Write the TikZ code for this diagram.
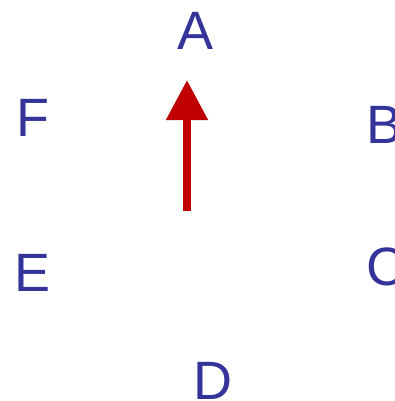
\documentclass[tikz,border=0pt]{standalone}
\usepackage{fontspec}
\setmainfont{Liberation Sans}
\usepackage{xcolor}
\usetikzlibrary{arrows.meta}
\definecolor{letter}{HTML}{333399}
\definecolor{needlered}{HTML}{C00000}

\tikzset{
  compass/.style={inner sep=0pt, text=letter, font=\fontsize{54}{60}\selectfont},
  needle/.style={draw=needlered, line width=8pt, -{Triangle[width=40pt,length=40pt]}}
}

\begin{document}
\begin{tikzpicture}[x=1pt, y=-1pt]
  \useasboundingbox (0,0) rectangle (395,401);
  % letters round the dial
  \node[compass] (A) at (196,31) {A};
  \node[compass] (B) at (385,125) {B};
  \node[compass] (C) at (386,267) {C};
  \node[compass] (D) at (213,381) {D};
  \node[compass] (E) at (33,273) {E};
  \node[compass] (F) at (33,118) {F};
  % the pointer
  \coordinate (tail) at (187,211);
  \coordinate (tip) at (187,80);
  \draw[needle] (tail) -- (tip);
\end{tikzpicture}
\end{document}
